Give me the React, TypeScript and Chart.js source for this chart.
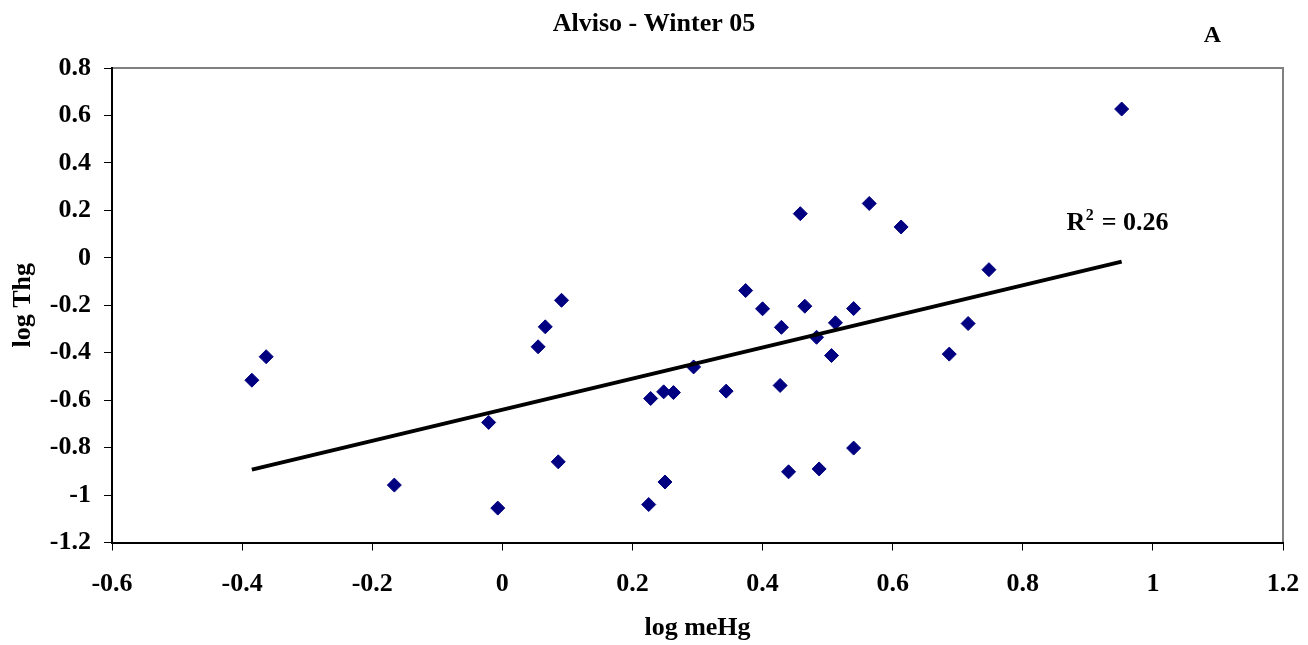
import React, { useEffect, useRef } from "react";
import { Chart, registerables } from "chart.js";

Chart.register(...registerables);

const chartTitle = "Alviso - Winter 05";
const panelLabel = "A";
const xAxisTitle = "log meHg";
const yAxisTitle = "log Thg";
const rSquaredValue = "0.26";

const meHgLog = [
  -0.385, -0.363, -0.166, -0.021, -0.007, 0.055, 0.066, 0.091, 0.086,
  0.458, 0.564, 0.613, 0.748, 0.374, 0.4, 0.465, 0.54, 0.429, 0.512,
  0.483, 0.716, 0.687, 0.506, 0.294, 0.228, 0.248, 0.263, 0.344, 0.427,
  0.54, 0.44, 0.487, 0.25, 0.225, 0.952,
];
const thgLog = [
  -0.516, -0.417, -0.958, -0.694, -1.055, -0.375, -0.291, -0.179, -0.86,
  0.186, 0.229, 0.13, -0.05, -0.138, -0.215, -0.204, -0.214, -0.293, -0.274,
  -0.335, -0.277, -0.406, -0.412, -0.46, -0.593, -0.565, -0.568, -0.562, -0.538,
  -0.802, -0.902, -0.89, -0.945, -1.04, 0.627,
];

const trendX = [-0.385, 0.952];
const trendY = [-0.893, -0.016];

const xTickLabels = ["-0.6", "-0.4", "-0.2", "0", "0.2", "0.4", "0.6", "0.8", "1", "1.2"];
const yTickLabels = ["-1.2", "-1", "-0.8", "-0.6", "-0.4", "-0.2", "0", "0.2", "0.4", "0.6", "0.8"];

const FONT = "'Liberation Serif', 'Times New Roman', serif";

export default function App() {
  const canvasRef = useRef<HTMLCanvasElement | null>(null);

  useEffect(() => {
    const canvas = canvasRef.current;
    if (!canvas) return;

    const decorPlugin = {
      id: "decor",
      beforeDraw(chart: any) {
        const { ctx, chartArea } = chart;
        ctx.save();
        ctx.strokeStyle = "#808080";
        ctx.lineWidth = 2;
        ctx.beginPath();
        ctx.moveTo(chartArea.left, chartArea.top);
        ctx.lineTo(chartArea.right, chartArea.top);
        ctx.lineTo(chartArea.right, chartArea.bottom);
        ctx.stroke();
        ctx.restore();
      },
      afterDraw(chart: any) {
        const { ctx } = chart;
        ctx.save();
        ctx.fillStyle = "#000";
        ctx.textBaseline = "alphabetic";
        ctx.font = `bold 26px ${FONT}`;
        ctx.textAlign = "center";
        ctx.fillText(chartTitle, 654, 30.5);
        ctx.font = `bold 24px ${FONT}`;
        ctx.fillText(panelLabel, 1212.5, 41.5);
        // R^2 label
        ctx.textAlign = "left";
        ctx.font = `bold 26px ${FONT}`;
        const xR = 1066.5;
        const base = 230;
        ctx.fillText("R", xR, base);
        const wR = ctx.measureText("R").width;
        ctx.font = `bold 16px ${FONT}`;
        ctx.fillText("2", xR + wR + 0.5, base - 10.5);
        const w2 = ctx.measureText("2").width;
        ctx.font = `bold 26px ${FONT}`;
        ctx.fillText(" = " + rSquaredValue, xR + wR + w2 + 2, base);
        ctx.restore();
      },
    };

    const scatterPoints = meHgLog.map((x, i) => ({ x, y: thgLog[i] }));
    const trendPoints = trendX.map((x, i) => ({ x, y: trendY[i] }));

    const chart = new Chart(canvas, {
      type: "scatter",
      data: {
        datasets: [
          {
            type: "line",
            data: trendPoints,
            borderColor: "#000",
            borderWidth: 4,
            pointRadius: 0,
            fill: false,
            order: 1,
          } as any,
          {
            type: "scatter",
            data: scatterPoints,
            pointStyle: "rectRot",
            pointRadius: 7,
            backgroundColor: "#000080",
            borderColor: "#000080",
            borderWidth: 1,
            order: 2,
          } as any,
        ],
      },
      options: {
        responsive: false,
        animation: false,
        events: [],
        layout: { padding: { top: 68, right: 25, bottom: 0, left: 0 } },
        plugins: {
          legend: { display: false },
          tooltip: { enabled: false },
          title: { display: false },
        },
        scales: {
          x: {
            type: "linear",
            min: -0.6,
            max: 1.2,
            afterFit(scale: any) {
              scale.height = 102.5;
              scale.paddingLeft = 0;
              scale.paddingRight = 0;
            },
            ticks: {
              stepSize: 0.2,
              color: "#000",
              font: { family: FONT, size: 26, weight: "bold" },
              padding: 18,
              maxRotation: 0,
              autoSkip: false,
              callback: (_v: any, i: number) => xTickLabels[i],
            },
            grid: {
              drawOnChartArea: false,
              drawTicks: true,
              tickLength: 8,
              color: "#000",
              lineWidth: 1,
            },
            border: { display: true, color: "#000", width: 2 },
            title: {
              display: true,
              text: xAxisTitle,
              color: "#000",
              font: { family: FONT, size: 26, weight: "bold" },
              padding: { top: 0, bottom: 1 },
            },
          },
          y: {
            type: "linear",
            min: -1.2,
            max: 0.8,
            afterFit(scale: any) {
              scale.width = 112;
              scale.paddingTop = 0;
              scale.paddingBottom = 0;
            },
            ticks: {
              stepSize: 0.2,
              color: "#000",
              font: { family: FONT, size: 26, weight: "bold" },
              padding: 13,
              autoSkip: false,
              callback: (_v: any, i: number) => yTickLabels[i],
            },
            grid: {
              drawOnChartArea: false,
              drawTicks: true,
              tickLength: 8,
              color: "#000",
              lineWidth: 1,
            },
            border: { display: true, color: "#000", width: 2 },
            title: {
              display: true,
              text: yAxisTitle,
              color: "#000",
              font: { family: FONT, size: 26, weight: "bold" },
              padding: { top: 8, bottom: 0 },
            },
          },
        },
      } as any,
      plugins: [decorPlugin],
    });

    return () => chart.destroy();
  }, []);

  return (
    <div style={{ position: "absolute", left: 0, top: 0, width: 1308, height: 645, background: "#fff" }}>
      <canvas ref={canvasRef} width={1308} height={645} style={{ display: "block" }} />
    </div>
  );
}
